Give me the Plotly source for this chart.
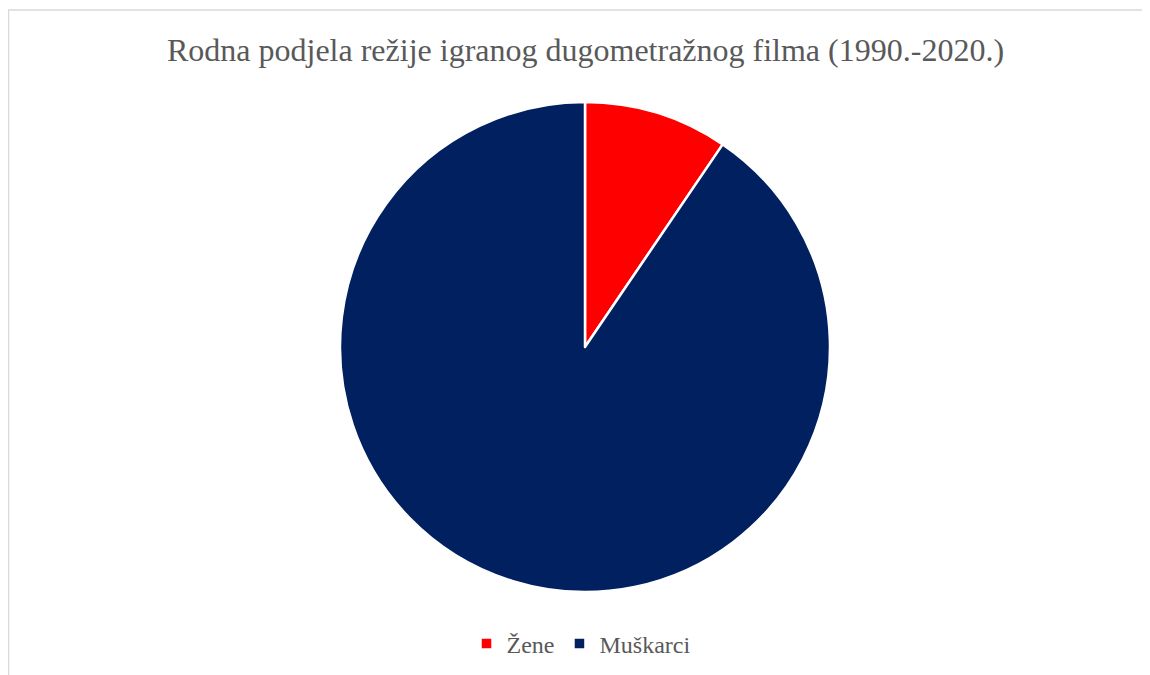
import plotly.graph_objects as go

labels = ["Žene", "Muškarci"]
values = [9.5, 90.5]
colors = ["#ff0000", "#002060"]

W, H = 1150, 675
OFF = 8  # browser body margin
fig = go.Figure()
fig.add_trace(go.Pie(
    labels=labels, values=values, sort=False, direction="clockwise", rotation=0,
    marker=dict(colors=colors, line=dict(color="white", width=2.5)),
    textinfo="none", hoverinfo="label+percent",
    domain=dict(x=[(340 - OFF) / W, (830 - OFF) / W],
                y=[1 - (592 - OFF) / H, 1 - (102 - OFF) / H]),
))
fig.update_layout(
    width=W, height=H, margin=dict(l=0, r=0, t=0, b=0),
    paper_bgcolor="white", plot_bgcolor="white",
    title=dict(text="Rodna podjela režije igranog dugometražnog filma (1990.-2020.)",
               x=(585.5 - OFF) / W, xanchor="center", y=1 - 42 / H, yanchor="middle",
               font=dict(family="Liberation Serif", size=32, color="#595959")),
    legend=dict(orientation="h", x=573 / W, xanchor="center", y=1 - 636 / H, yanchor="middle",
                font=dict(family="Liberation Serif", size=24, color="#595959"),
                itemwidth=30),
    shapes=[dict(type="rect", xref="paper", yref="paper",
                 x0=0.5 / W, x1=1.05, y0=-0.05, y1=1 - 2 / H,
                 line=dict(color="#d9d9d9", width=1.5))],
)
fig.write_html("out.html")
